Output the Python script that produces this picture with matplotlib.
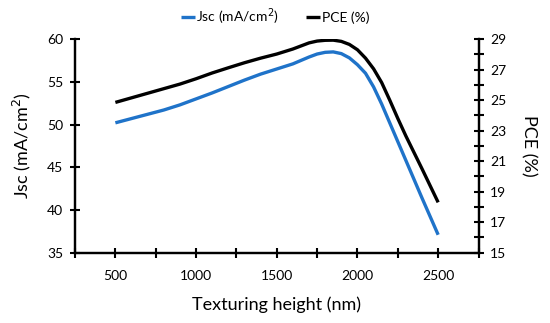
import matplotlib
matplotlib.use('Agg')
import matplotlib.pyplot as plt
from matplotlib.ticker import MultipleLocator

# values
height_nm = [500, 600, 700, 800, 900, 1000, 1100, 1200, 1300, 1400, 1500,
             1600, 1650, 1700, 1750, 1800, 1850, 1900, 1950, 2000, 2050,
             2100, 2150, 2200, 2250, 2300, 2400, 2500]
jsc = [50.2, 50.7, 51.2, 51.7, 52.3, 53.0, 53.7, 54.45, 55.2, 55.9, 56.5,
       57.1, 57.5, 57.9, 58.25, 58.45, 58.5, 58.3, 57.8, 57.0, 56.0,
       54.4, 52.4, 50.2, 48.0, 45.8, 41.4, 37.1]
pce = [24.85, 25.15, 25.45, 25.75, 26.05, 26.4, 26.78, 27.12, 27.45, 27.75, 28.02,
       28.35, 28.55, 28.75, 28.87, 28.92, 28.93, 28.85, 28.65, 28.3, 27.75,
       27.05, 26.15, 25.0, 23.8, 22.65, 20.5, 18.3]

x_ticks = [500, 1000, 1500, 2000, 2500]
jsc_ticks = [35, 40, 45, 50, 55, 60]
pce_ticks = [15, 17, 19, 21, 23, 25, 27, 29]

plt.rcParams['font.family'] = ['Lato', 'DejaVu Sans']
blue = '#1F73C9'

fig = plt.figure(figsize=(5.5, 3.23), dpi=100)
ax = fig.add_axes([0.1364, 0.2176, 0.7336, 0.6614])
ax2 = ax.twinx()

l1, = ax.plot(height_nm, jsc, color=blue, linewidth=2.4, label='Jsc (mA/cm$^2$)',
              solid_capstyle='butt', solid_joinstyle='round')
l2, = ax2.plot(height_nm, pce, color='black', linewidth=2.4, label='PCE (%)',
               solid_capstyle='butt', solid_joinstyle='round')

ax.set_xlim(250, 2750)
ax.set_ylim(35, 60)
ax2.set_ylim(15, 29)
ax.set_xticks(x_ticks)
ax.xaxis.set_minor_locator(MultipleLocator(250))
ax.set_yticks(jsc_ticks)
ax2.set_yticks(pce_ticks)
ax2.yaxis.set_minor_locator(MultipleLocator(1))

for a in (ax, ax2):
    for s in a.spines.values():
        s.set_linewidth(1.6)
    a.spines['top'].set_visible(False)
    a.tick_params(which='both', direction='inout', length=7, width=1.5,
                  labelsize=10, pad=5)
ax.tick_params(axis='x', which='both', top=False)
ax.tick_params(axis='x', pad=9)

ax.set_xlabel('Texturing height (nm)', fontsize=13, labelpad=10)
ax.set_ylabel('Jsc (mA/cm$^2$)', fontsize=13, labelpad=10)
ax2.set_ylabel('PCE (%)', fontsize=13, rotation=-90, labelpad=22)

fig.legend(handles=[l1, l2], loc='center', bbox_to_anchor=(0.5, 0.948), ncol=2,
           frameon=False, fontsize=10, handlelength=1.0, handletextpad=0.1,
           columnspacing=2.0)

fig.savefig('out.png', dpi=100)
